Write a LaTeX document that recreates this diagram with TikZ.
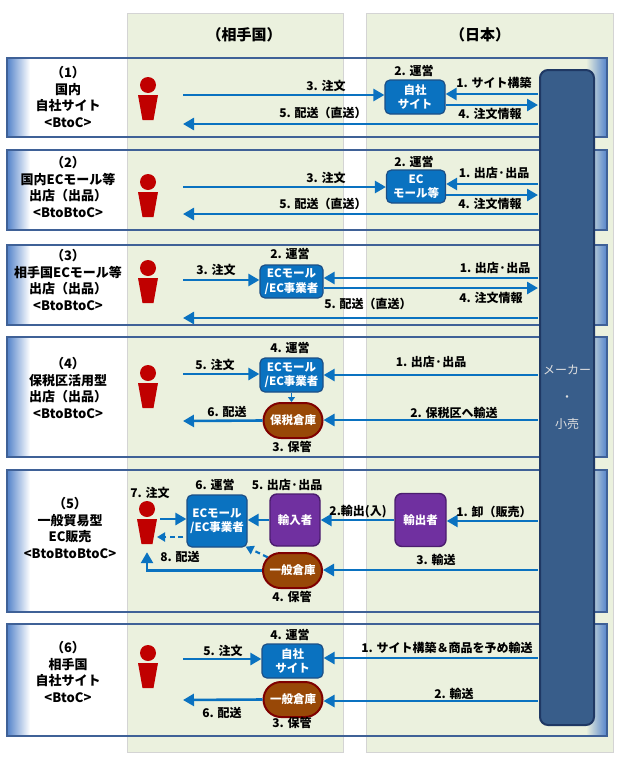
\documentclass[tikz,border=0pt]{standalone}
\usepackage{fontspec}
\setmainfont{Noto Sans CJK JP}
\usetikzlibrary{arrows.meta,calc,shapes.misc}
\definecolor{colbg}{HTML}{EBF1DE}
\definecolor{colline}{HTML}{D4D4D4}
\definecolor{bandln}{HTML}{3F6197}
\definecolor{bandgr}{HTML}{5A88CC}
\definecolor{arrc}{HTML}{0A72C0}
\definecolor{boxb}{HTML}{0A72C0}
\definecolor{boxbd}{HTML}{1C4F86}
\definecolor{mkf}{HTML}{385D8A}
\definecolor{mkd}{HTML}{1F3864}
\definecolor{purf}{HTML}{7030A0}
\definecolor{purd}{HTML}{4B1D6E}
\definecolor{brf}{HTML}{984807}
\definecolor{brd}{HTML}{7F0000}
\definecolor{pred}{HTML}{C00000}
\begin{document}
\begin{tikzpicture}[x=1pt,y=-1pt,
  lbl/.style={font=\bfseries\fontsize{12}{14}\selectfont, inner sep=0pt},
  side/.style={font=\bfseries\fontsize{13}{16.5}\selectfont, align=center, inner sep=0pt},
  hdr/.style={font=\bfseries\fontsize{15}{18}\selectfont, inner sep=0pt},
  bbox/.style={rounded corners=5pt, fill=boxb, draw=boxbd, line width=1.2pt, text=white,
    font=\bfseries\fontsize{11.5}{14.5}\selectfont, align=center, inner sep=0pt},
  pbox/.style={rounded corners=7pt, fill=purf, draw=purd, line width=1.4pt, text=white,
    font=\bfseries\fontsize{11.5}{14}\selectfont, align=center, inner sep=0pt,
    minimum width=50pt, minimum height=52pt},
  wh/.style={rounded rectangle, fill=brf, draw=brd, line width=2pt, text=white,
    font=\bfseries\fontsize{11.5}{14}\selectfont, inner sep=0pt,
    minimum width=59pt, minimum height=35pt},
  mkbox/.style={rounded corners=8pt, fill=mkf, draw=mkd, line width=2pt, text=gray!25,
    font=\fontsize{12}{27}\selectfont, align=center, inner sep=0pt},
  arr/.style={draw=arrc, line width=2.6pt, -{Triangle[length=11pt,width=12pt]}},
  sarr/.style={draw=arrc, line width=1.5pt, -{Triangle[length=5pt,width=7pt]}},
  darr/.style={draw=arrc, line width=2.2pt, dash pattern=on 5pt off 3.5pt, -{Triangle[length=8pt,width=9pt]}},
  person/.style={minimum width=22pt, minimum height=43pt, inner sep=0pt,
    path picture={
      \fill[pred] ($(path picture bounding box.north)+(0,8)$) circle[radius=8];
      \fill[pred] ($(path picture bounding box.north)+(-10,18)$) -- ++(20,0) -- ++(-4.5,25) -- ++(-11,0) -- cycle;
    }}
]
\useasboundingbox (0,0) rectangle (626,763);
% columns
\fill[colbg, draw=colline, line width=0.8pt] (127,13) rectangle (343,752);
\fill[colbg, draw=colline, line width=0.8pt] (366,13) rectangle (613,752);
\node[hdr] (h1) at (244,35) {（相手国）};
\node[hdr] (h2) at (480,35) {（日本）};
% bands
\foreach \t/\b in {58/137,150/230,245/325,337/457,470/612,624/736}{
  \shade[left color=bandgr, right color=white] (8,\t) rectangle (30,\b);
  \shade[left color=colbg, right color=bandgr] (586,\t) rectangle (606,\b);
  \draw[bandln, line width=1.8pt] (7,\t) rectangle (607,\b);
}
% maker / retailer
\node[mkbox, minimum width=54pt, minimum height=655pt] (mk) at (567,397.5) {メーカー\\・\\小売};

% side labels
\node[side] (t1) at (68,97) {（1）\\国内\\自社サイト\\<BtoC>};
\node[side] (t2) at (68,187) {（2）\\国内ECモール等\\出店（出品）\\<BtoBtoC>};
\node[side] (t3) at (68,280) {（3）\\相手国ECモール等\\出店（出品）\\<BtoBtoC>};
\node[side] (t4) at (68,388) {（4）\\保税区活用型\\出店（出品）\\<BtoBtoC>};
\node[side] (t5) at (70,528) {（5）\\一般貿易型\\EC販売\\<BtoBtoBtoC>};
\node[side] (t6) at (68,672) {（6）\\相手国\\自社サイト\\<BtoC>};

% ---------- row 1
\node[person] (p1) at (148,98.5) {};
\node[bbox, minimum width=60pt, minimum height=34pt] (b1) at (415,97) {自社\\サイト};
\coordinate (r1o) at (183,95);
\coordinate (r1d) at (183,124);
\coordinate (m1a) at (538,94);
\coordinate (m1b) at (538,105);
\coordinate (m1d) at (538,124);
\draw[arr] (r1o) -- (r1o -| b1.west);
\draw[arr] (m1a) -- (m1a -| b1.east);
\draw[arr] (m1b -| b1.east) -- (m1b);
\draw[arr] (m1d) -- (r1d);
\node[lbl] (l1a) at (414,71) {2. 運営};
\node[lbl] (l1b) at (326,86) {3. 注文};
\node[lbl] (l1c) at (323,113) {5. 配送（直送）};
\node[lbl] (l1d) at (494,83) {1. サイト構築};
\node[lbl] (l1e) at (490,114) {4. 注文情報};

% ---------- row 2
\node[person] (p2) at (148,195.5) {};
\node[bbox, minimum width=59pt, minimum height=33pt] (b2) at (416,186.5) {EC\\モール等};
\coordinate (r2o) at (183,187);
\coordinate (r2d) at (183,214);
\coordinate (m2a) at (538,184);
\coordinate (m2b) at (538,195);
\coordinate (m2d) at (538,214);
\draw[arr] (r2o) -- (r2o -| b2.west);
\draw[arr] (m2a) -- (m2a -| b2.east);
\draw[arr] (m2b -| b2.east) -- (m2b);
\draw[arr] (m2d) -- (r2d);
\node[lbl] (l2a) at (414,162) {2. 運営};
\node[lbl] (l2b) at (326,178) {3. 注文};
\node[lbl] (l2c) at (323,204) {5. 配送（直送）};
\node[lbl] (l2d) at (494,173) {1. 出店·出品};
\node[lbl] (l2e) at (490,204) {4. 注文情報};

% ---------- row 3
\node[person] (p3) at (148,281.5) {};
\node[bbox, minimum width=63pt, minimum height=33pt] (b3) at (291.5,281.5) {ECモール\\/EC事業者};
\coordinate (r3o) at (183,280);
\coordinate (r3d) at (183,318);
\coordinate (m3a) at (538,278);
\coordinate (m3b) at (538,288);
\coordinate (m3d) at (538,318);
\draw[arr] (r3o) -- (r3o -| b3.west);
\draw[arr] (m3a) -- (m3a -| b3.east);
\draw[arr] (m3b -| b3.east) -- (m3b);
\draw[arr] (m3d) -- (r3d);
\node[lbl] (l3a) at (290,254) {2. 運営};
\node[lbl] (l3b) at (216,270) {3. 注文};
\node[lbl] (l3c) at (368,304) {5. 配送（直送）};
\node[lbl] (l3d) at (495,268) {1. 出店·出品};
\node[lbl] (l3e) at (491,298) {4. 注文情報};

% ---------- row 4
\node[person] (p4) at (148,386.5) {};
\node[bbox, minimum width=63pt, minimum height=34pt] (b4) at (291.5,375) {ECモール\\/EC事業者};
\node[wh] (w4) at (293,420.5) {保税倉庫};
\coordinate (r4o) at (183,374);
\coordinate (r4d) at (183,421);
\coordinate (m4a) at (538,375);
\coordinate (m4b) at (538,420);
\draw[arr] (r4o) -- (r4o -| b4.west);
\draw[sarr] (b4.south) -- (b4.south |- w4.north);
\draw[arr] (w4.west) -- (r4d);
\draw[arr] (m4a) -- (m4a -| b4.east);
\draw[arr] (m4b) -- (m4b -| w4.east);
\node[lbl] (l4a) at (290,348) {4. 運営};
\node[lbl] (l4b) at (215,365) {5. 注文};
\node[lbl] (l4c) at (227,412) {6. 配送};
\node[lbl] (l4d) at (292,447) {3. 保管};
\node[lbl] (l4e) at (431,362) {1. 出店·出品};
\node[lbl] (l4f) at (454,413) {2. 保税区へ輸送};

% ---------- row 5
\node[person] (p5) at (147,522.5) {};
\node[bbox, minimum width=60pt, minimum height=52pt] (e5) at (217,521) {ECモール\\/EC事業者};
\node[pbox] (i5) at (295,520) {輸入者};
\node[pbox, minimum width=51pt, minimum height=53pt] (x5) at (420.5,520) {輸出者};
\node[wh] (w5) at (292.5,570.5) {一般倉庫};
\coordinate (r5o) at (160,519);
\coordinate (r5d) at (157,537);
\coordinate (m5a) at (538,521);
\coordinate (m5b) at (538,570);
\draw[arr] (r5o) -- (r5o -| e5.west);
\draw[darr, shorten <=3pt] (r5d -| e5.west) -- (r5d);
\draw[arr] (i5.west) -- (i5.west -| e5.east);
\draw[arr] (x5.west) -- (x5.west -| i5.east);
\draw[arr] (m5a) -- (m5a -| x5.east);
\draw[arr] (m5b) -- (m5b -| w5.east);
\draw[darr] (w5.152) -- ([xshift=-2pt,yshift=1pt]e5.south east);
\draw[arr, shorten >=8pt] (w5.west) -| (p5.south);
\node[lbl] (l5a) at (150,493) {7. 注文};
\node[lbl] (l5b) at (215,485) {6. 運営};
\node[lbl] (l5c) at (287,485) {5. 出店·出品};
\node[lbl] (l5d) at (358,512) {2.輸出(入)};
\node[lbl] (l5e) at (494,512) {1. 卸（販売）};
\node[lbl] (l5f) at (436,560) {3. 輸送};
\node[lbl] (l5g) at (180,557) {8. 配送};
\node[lbl] (l5h) at (292,597) {4. 保管};

% ---------- row 6
\node[person] (p6) at (148,666.5) {};
\node[bbox, minimum width=61pt, minimum height=34pt] (s6) at (292.5,661) {自社\\サイト};
\node[wh] (w6) at (293,699.5) {一般倉庫};
\coordinate (r6o) at (183,659);
\coordinate (r6d) at (183,700);
\coordinate (m6a) at (538,658);
\coordinate (m6b) at (538,701);
\draw[arr] (r6o) -- (r6o -| s6.west);
\draw[arr] (w6.west) -- (r6d);
\draw[arr] (m6a) -- (m6a -| s6.east);
\draw[arr] (m6b) -- (m6b -| w6.east);
\node[lbl] (l6a) at (290,635) {4. 運営};
\node[lbl] (l6b) at (223,651) {5. 注文};
\node[lbl] (l6c) at (222,713) {6. 配送};
\node[lbl] (l6d) at (292,723) {3. 保管};
\node[lbl] (l6e) at (447,648) {1. サイト構築＆商品を予め輸送};
\node[lbl] (l6f) at (454,694) {2. 輸送};
\end{tikzpicture}
\end{document}
